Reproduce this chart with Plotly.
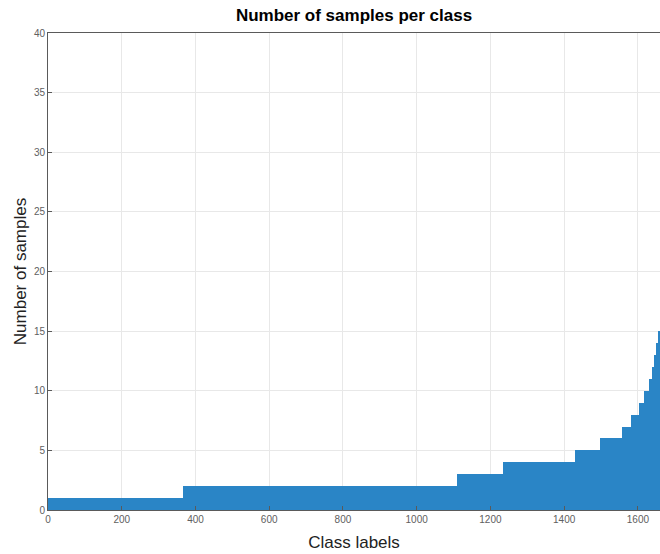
import numpy as np
import plotly.graph_objects as go

# Sorted per-class sample counts, stored as run-length levels
levels = [1, 2, 3, 4, 5, 6, 7, 8, 9, 10, 11, 12, 13, 14, 15]
run_lengths = [368, 742, 125, 195, 68, 61, 25, 20, 15, 13, 7, 6, 5, 5, 5]

x_ticks = [0, 200, 400, 600, 800, 1000, 1200, 1400, 1600]
y_ticks = [0, 5, 10, 15, 20, 25, 30, 35, 40]

counts = np.repeat(levels, run_lengths)
class_idx = np.arange(1, len(counts) + 1)

fig = go.Figure(go.Bar(
    x=class_idx - 0.5, y=counts, width=1.0,
    marker=dict(color="#2a85c6", line=dict(width=0)),
    hoverinfo="x+y",
))

FONT = "Liberation Sans, Arial, Helvetica, sans-serif"
axis_common = dict(
    showline=True, linecolor="#5a5a5a", linewidth=1, mirror=True,
    ticks="inside", ticklen=4, tickcolor="#5a5a5a",
    showgrid=True, gridcolor="#e8e8e8", gridwidth=1,
    zeroline=False,
    tickfont=dict(family=FONT, size=10, color="#606060"),
    title_font=dict(family=FONT, size=17, color="#222222"),
)

fig.update_layout(
    width=660, height=554,
    margin=dict(l=48, r=0, t=33, b=44),
    plot_bgcolor="white", paper_bgcolor="white",
    bargap=0,
    showlegend=False,
    title=dict(text="<b>Number of samples per class</b>", x=0.5, xref="paper",
               y=1 - 15 / 554, yanchor="middle",
               font=dict(family=FONT, size=17, color="#000000")),
    xaxis=dict(range=[0, len(counts)], tickvals=x_ticks, title=dict(text="Class labels", standoff=12),
               **axis_common),
    yaxis=dict(range=[0, 40], tickvals=y_ticks, title=dict(text="Number of samples", standoff=2),
               **axis_common),
)

fig.write_html("out.html", config={"displayModeBar": False},
               post_script="document.body.style.margin='0';document.body.style.padding='0';")
